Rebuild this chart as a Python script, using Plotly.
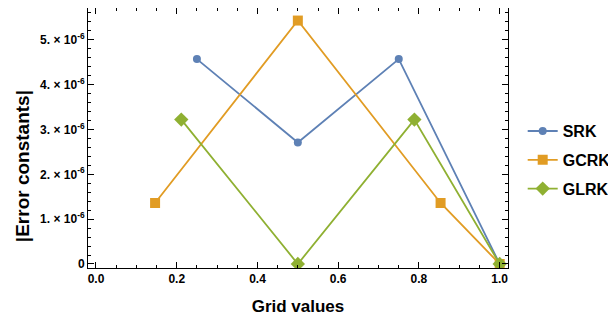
import plotly.graph_objects as go

srk_x = [0.25, 0.5, 0.75, 1.0]
srk_y = [4.57e-6, 2.71e-6, 4.57e-6, 0.0]
gcrk_x = [0.1464, 0.5, 0.8536, 1.0]
gcrk_y = [1.36e-6, 5.43e-6, 1.36e-6, 0.0]
glrk_x = [0.2113, 0.5, 0.7887, 1.0]
glrk_y = [3.22e-6, 0.0, 3.22e-6, 0.0]

series = [
    ("SRK", srk_x, srk_y, "#5E81B5", "circle", 8),
    ("GCRK", gcrk_x, gcrk_y, "#E19C24", "square", 10),
    ("GLRK", glrk_x, glrk_y, "#8FB032", "diamond", 11),
]

x_ticks = [0.0, 0.2, 0.4, 0.6, 0.8, 1.0]
x_labels = ["0.0", "0.2", "0.4", "0.6", "0.8", "1.0"]
y_ticks = [0, 1e-6, 2e-6, 3e-6, 4e-6, 5e-6]
y_labels = ["0"] + [f"{i}. × 10<sup>-6</sup>" for i in range(1, 6)]

fig = go.Figure()
for name, xs, ys, color, sym, size in series:
    fig.add_trace(go.Scatter(
        x=xs, y=ys, name=name, mode="lines+markers", legendgroup=name,
        line=dict(color=color, width=1.8),
        marker=dict(symbol=sym, size=size, color=color),
    ))

font_family = "Liberation Sans, Arial, sans-serif"
fig.update_layout(
    width=608, height=312,
    margin=dict(l=80, r=108, t=0, b=52),
    paper_bgcolor="white", plot_bgcolor="white",
    font=dict(family=font_family, color="black"),
    legend=dict(x=1.035, y=0.415, xanchor="left", yanchor="middle",
                font=dict(size=16, family=font_family, weight="bold"),
                tracegroupgap=5, itemwidth=30),
    xaxis=dict(
        range=[-0.0198, 1.0206], tickvals=x_ticks, ticktext=x_labels,
        ticks="inside", ticklen=6, tickwidth=1, tickcolor="black",
        minor=dict(ticks="inside", dtick=0.05, ticklen=3, tickcolor="black", tick0=0),
        showline=True, linecolor="black", linewidth=1, mirror="allticks",
        showgrid=False, zeroline=False,
        tickfont=dict(size=12, family=font_family, weight="bold"),
        title=dict(text="Grid values", font=dict(size=17, family=font_family, weight="bold"), standoff=14),
    ),
    yaxis=dict(
        range=[-0.09e-6, 5.71e-6], tickvals=y_ticks, ticktext=y_labels,
        ticks="inside", ticklen=6, tickwidth=1, tickcolor="black",
        minor=dict(ticks="inside", dtick=0.2e-6, ticklen=3, tickcolor="black", tick0=0),
        showline=True, linecolor="black", linewidth=1, mirror="allticks",
        showgrid=False, zeroline=False,
        tickfont=dict(size=12, family=font_family, weight="bold"),
    ),
    annotations=[dict(
        text="|Error constants|", textangle=-90, showarrow=False,
        xref="paper", yref="paper", x=-0.157, y=0.392,
        xanchor="center", yanchor="middle",
        font=dict(size=19, family=font_family, weight="bold"),
    )],
)

fig.write_html("out.html")
